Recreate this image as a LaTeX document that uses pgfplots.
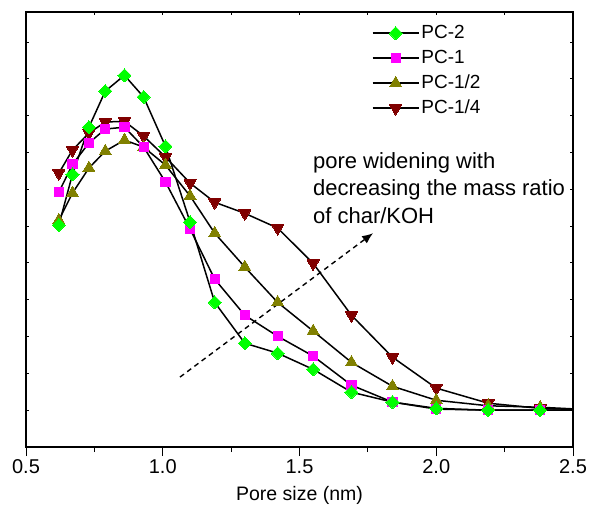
\documentclass[border=0pt]{standalone}
\usepackage{fontspec}
\setmainfont{Liberation Sans}
\usepackage{pgfplots}
\pgfplotsset{compat=1.18}
\usetikzlibrary{arrows.meta}
\definecolor{pc2}{HTML}{00FF00}
\definecolor{pc1}{HTML}{FF00FF}
\definecolor{pchalf}{HTML}{808000}
\definecolor{pcquart}{HTML}{800000}

\pgfplotsset{
    frame/.style={
        width=547pt, height=435pt, scale only axis,
        at={(0,0)}, anchor=south west,
        xmin=0.5, xmax=2.5, ymin=-1, ymax=10.82,
        axis line style={line width=1.3pt},
        tick style={black, line width=1pt},
    },
}

\begin{document}
\begin{tikzpicture}
% small inner ticks on top, left and right
\begin{axis}[
    frame,
    xtick={0.5,0.75,1,1.25,1.5,1.75,2,2.25,2.5},
    xticklabels={}, xtick pos=right, xtick align=inside,
    ytick={0,1,2,3,4,5,6,7,8,9,10},
    yticklabels={}, ytick pos=both, ytick align=inside,
    major tick length=3pt,
]
\end{axis}

\begin{axis}[
    frame,
    xtick={0.5,1,1.5,2,2.5},
    minor xtick={0.75,1.25,1.75,2.25},
    xtick pos=left, xtick align=outside,
    major tick length=9pt, minor tick length=5pt,
    ytick=\empty,
    xticklabel style={font=\fontsize{20}{24}\selectfont,
        /pgf/number format/fixed, /pgf/number format/fixed zerofill,
        /pgf/number format/precision=1,
        /pgf/number format/assume math mode=true},
    xlabel={Pore size (nm)},
    xlabel style={font=\fontsize{19.5}{23}\selectfont, yshift=-6pt},
    reverse legend,
    legend style={at={(0.632,0.977)}, anchor=north west, draw=none, fill=none,
        inner sep=0pt, row sep=3pt,
        font=\fontsize{19}{23}\selectfont,
        nodes={inner sep=2pt, text height=14pt, text depth=4pt}},
    legend cell align=left,
    legend image code/.code={
        \draw[mark repeat=2, mark phase=2]
            plot coordinates {(0pt,0pt) (23pt,0pt) (46pt,0pt)};},
    every axis plot/.append style={black, line width=1.5pt},
]
\addplot[mark=triangle*, mark size=7pt,
    mark options={fill=pcquart, draw=pcquart, rotate=180, line width=0pt}]
    coordinates {
    (0.62,6.44) (0.67,7.07) (0.73,7.53) (0.79,7.83) (0.86,7.85) (0.93,7.45)
    (1.01,6.88) (1.10,6.17) (1.19,5.65) (1.30,5.35) (1.42,4.95) (1.55,3.99)
    (1.69,2.58) (1.84,1.44) (2.00,0.60) (2.19,0.19) (2.38,0.05) (2.60,0.00)};
\addlegendentry{PC-1/4}
\addplot[mark=triangle*, mark size=7pt,
    mark options={fill=pchalf, draw=pchalf, line width=0pt}]
    coordinates {
    (0.62,5.16) (0.67,5.90) (0.73,6.58) (0.79,7.04) (0.86,7.34) (0.93,7.15)
    (1.01,6.66) (1.10,5.82) (1.19,4.81) (1.30,3.89) (1.42,2.93) (1.55,2.15)
    (1.69,1.30) (1.84,0.65) (2.00,0.27) (2.19,0.12) (2.38,0.08) (2.60,0.00)};
\addlegendentry{PC-1/2}
\addplot[mark=square*, mark size=4.6pt,
    mark options={fill=pc1, draw=pc1, line width=0pt}]
    coordinates {
    (0.62,5.92) (0.67,6.68) (0.73,7.26) (0.79,7.64) (0.86,7.69) (0.93,7.15)
    (1.01,6.20) (1.10,4.92) (1.19,3.56) (1.30,2.58) (1.42,2.01) (1.55,1.47)
    (1.69,0.68) (1.84,0.22) (2.00,0.03) (2.19,0.00) (2.38,0.00) (2.60,0.00)};
\addlegendentry{PC-1}
\addplot[mark=square*, mark size=4.6pt,
    mark options={fill=pc2, draw=pc2, rotate=45, line width=0pt}]
    coordinates {
    (0.62,5.03) (0.67,6.41) (0.73,7.69) (0.79,8.67) (0.86,9.10) (0.93,8.51)
    (1.01,7.17) (1.10,5.11) (1.19,2.93) (1.30,1.82) (1.42,1.55) (1.55,1.11)
    (1.69,0.49) (1.84,0.22) (2.00,0.05) (2.19,0.00) (2.38,0.00) (2.60,0.00)};
\addlegendentry{PC-2}

\draw[black, line width=1.4pt, dash pattern=on 5pt off 4pt, -{Latex[length=11pt,width=9pt]}]
    (axis cs:1.063,0.90) -- (axis cs:1.769,4.81);
\node[anchor=north west, align=left, inner sep=0pt,
    font=\fontsize{22}{27.5}\selectfont]
    at (axis cs:1.549,7.01)
    {pore widening with\\decreasing the mass ratio\\of char/KOH};
\end{axis}
\path (-26pt,-61pt) rectangle (567pt,447pt);
\end{tikzpicture}
\end{document}
